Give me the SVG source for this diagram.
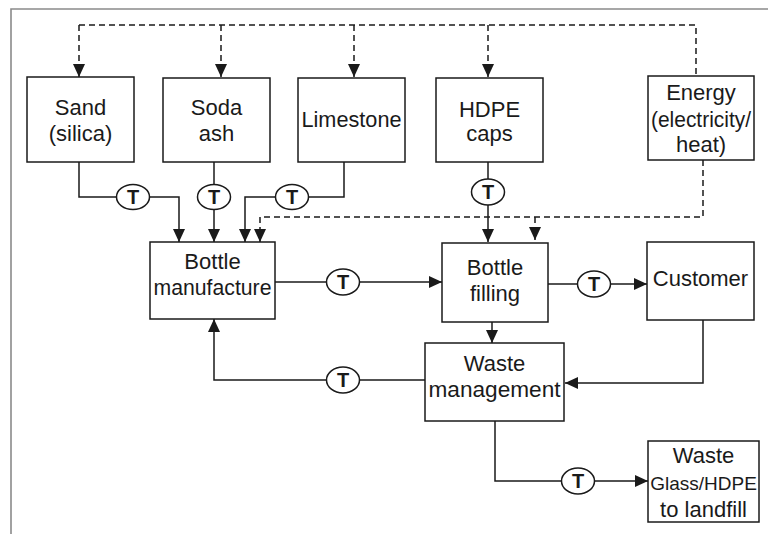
<svg xmlns="http://www.w3.org/2000/svg" width="768" height="534" viewBox="0 0 768 534">
<defs>
<marker id="ah" markerUnits="userSpaceOnUse" markerWidth="13" markerHeight="12" refX="13" refY="6" orient="auto" viewBox="0 0 13 12"><path d="M0,0 L13,6 L0,12 z" fill="#1a1a1a"/></marker>
<style>
.box{fill:#fff;stroke:#1a1a1a;stroke-width:1.5}
.t{font-family:"Liberation Sans",Arial,sans-serif;font-size:22px;fill:#1a1a1a;text-anchor:middle}
.ln{fill:none;stroke:#1a1a1a;stroke-width:1.5}
.dl{fill:none;stroke:#1a1a1a;stroke-width:1.5;stroke-dasharray:6 4}
.tc{fill:#fff;stroke:#1a1a1a;stroke-width:1.5}
.tt{font-family:"Liberation Sans",Arial,sans-serif;font-size:20px;font-weight:bold;fill:#1a1a1a;text-anchor:middle}
.fr{fill:none;stroke:#8a8a8a;stroke-width:1.6}
</style>
</defs>
<rect width="768" height="534" fill="#fff"/>
<path class="fr" d="M11,534 V9 H768"/>
<g id="connectors">
<path class="dl" d="M79,25 H696 V76"/>
<path class="dl" d="M79,25 V77" marker-end="url(#ah)"/>
<path class="dl" d="M221,25 V77" marker-end="url(#ah)"/>
<path class="dl" d="M354,25 V77" marker-end="url(#ah)"/>
<path class="dl" d="M488,25 V77" marker-end="url(#ah)"/>
<path class="dl" d="M703,160 V217 H260 V242" marker-end="url(#ah)"/>
<path class="dl" d="M535,217 V240" marker-end="url(#ah)"/>
<path class="ln" d="M79,162 V197 H179 V242" marker-end="url(#ah)"/>
<path class="ln" d="M214,162 V242" marker-end="url(#ah)"/>
<path class="ln" d="M344,162 V197 H245 V242" marker-end="url(#ah)"/>
<path class="ln" d="M488,162 V242" marker-end="url(#ah)"/>
<path class="ln" d="M275,282 H442" marker-end="url(#ah)"/>
<path class="ln" d="M548,284 H647" marker-end="url(#ah)"/>
<path class="ln" d="M492,322 V343" marker-end="url(#ah)"/>
<path class="ln" d="M703,320 V383 H565" marker-end="url(#ah)"/>
<path class="ln" d="M425,380 H214 V319" marker-end="url(#ah)"/>
<path class="ln" d="M495,421 V481 H648" marker-end="url(#ah)"/>
<g id="transport">
<ellipse class="tc" cx="133" cy="197" rx="16.5" ry="12.5"/><text class="tt" x="133" y="204">T</text>
<ellipse class="tc" cx="214" cy="197" rx="16.5" ry="12.5"/><text class="tt" x="214" y="204">T</text>
<ellipse class="tc" cx="292" cy="197" rx="16.5" ry="12.5"/><text class="tt" x="292" y="204">T</text>
<ellipse class="tc" cx="488" cy="192" rx="16.5" ry="13"/><text class="tt" x="488" y="199">T</text>
<ellipse class="tc" cx="343" cy="282" rx="16.5" ry="13"/><text class="tt" x="343" y="289">T</text>
<ellipse class="tc" cx="594" cy="284" rx="16.5" ry="13"/><text class="tt" x="594" y="291">T</text>
<ellipse class="tc" cx="343" cy="380" rx="16.5" ry="13"/><text class="tt" x="343" y="387">T</text>
<ellipse class="tc" cx="578" cy="481" rx="16.5" ry="13"/><text class="tt" x="578" y="488">T</text>
</g>
</g>
<g id="sand"><rect class="box" x="27" y="77" width="107" height="85"/><text class="t" x="80.5" y="115">Sand</text><text class="t" x="80.5" y="141">(silica)</text></g>
<g id="soda"><rect class="box" x="163" y="78" width="107" height="84"/><text class="t" x="216.5" y="115">Soda</text><text class="t" x="216.5" y="141">ash</text></g>
<g id="limestone"><rect class="box" x="298" y="78" width="107" height="84"/><text class="t" x="351.5" y="127" textLength="100" lengthAdjust="spacingAndGlyphs">Limestone</text></g>
<g id="hdpe"><rect class="box" x="436" y="78" width="107" height="84"/><text class="t" x="489.5" y="117">HDPE</text><text class="t" x="489.5" y="141">caps</text></g>
<g id="energy"><rect class="box" x="648" y="76" width="106" height="84"/><text class="t" x="701" y="100">Energy</text><text class="t" x="701" y="127" textLength="100" lengthAdjust="spacingAndGlyphs">(electricity/</text><text class="t" x="701" y="152">heat)</text></g>
<g id="bottle-manufacture"><rect class="box" x="150" y="242" width="125" height="77"/><text class="t" x="212.5" y="269">Bottle</text><text class="t" x="212.5" y="295" textLength="118" lengthAdjust="spacingAndGlyphs">manufacture</text></g>
<g id="bottle-filling"><rect class="box" x="442" y="243" width="106" height="79"/><text class="t" x="495" y="275">Bottle</text><text class="t" x="495" y="301">filling</text></g>
<g id="customer"><rect class="box" x="647" y="242" width="107" height="78"/><text class="t" x="700.5" y="286">Customer</text></g>
<g id="waste-management"><rect class="box" x="425" y="343" width="139" height="78"/><text class="t" x="494.5" y="371">Waste</text><text class="t" x="494.5" y="397" textLength="132" lengthAdjust="spacingAndGlyphs">management</text></g>
<g id="landfill"><rect class="box" x="648" y="441" width="111" height="81"/><text class="t" x="703.5" y="463">Waste</text><text class="t" x="703.5" y="490" style="font-size:19px">Glass/HDPE</text><text class="t" x="703.5" y="517">to landfill</text></g>
</svg>
